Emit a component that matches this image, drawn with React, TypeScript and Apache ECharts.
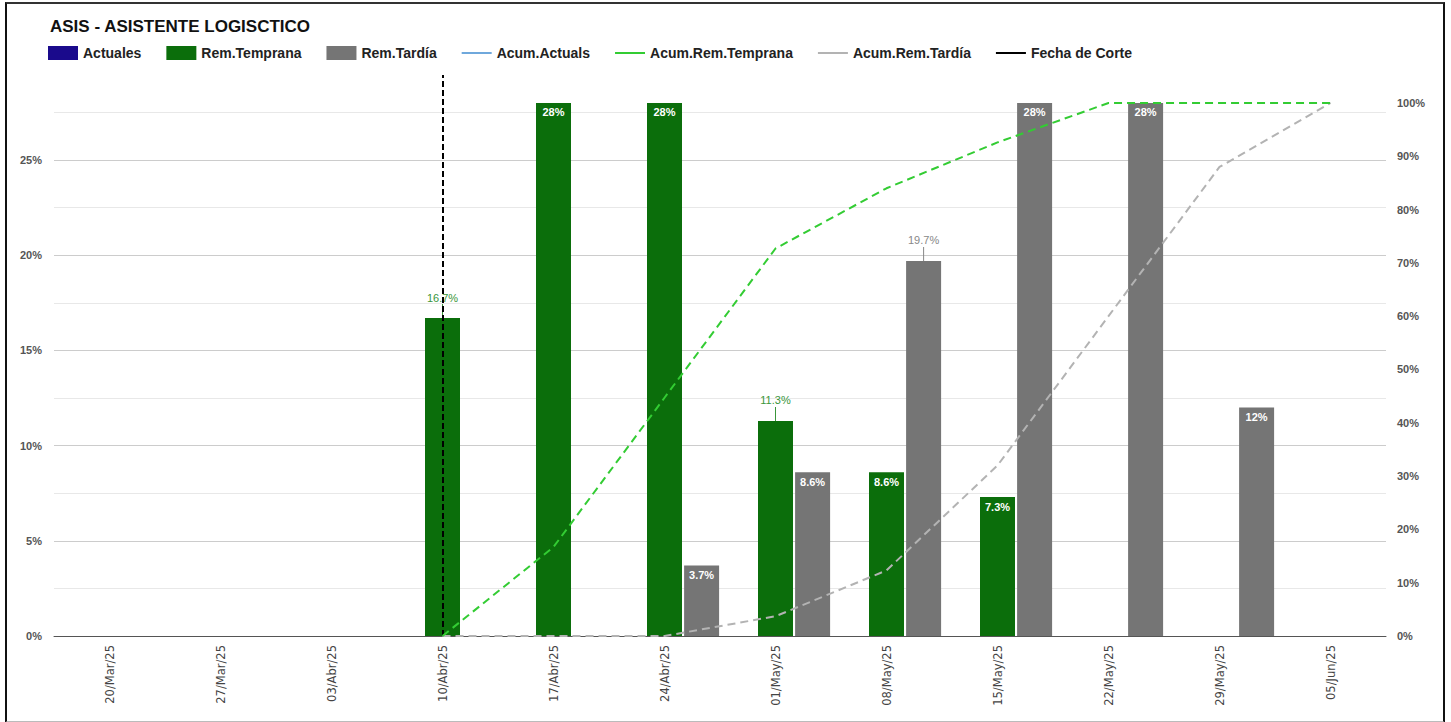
import React, { useEffect, useRef } from "react";
import * as echarts from "echarts";

const title = "ASIS - ASISTENTE LOGISCTICO";
const categories = ["20/Mar/25", "27/Mar/25", "03/Abr/25", "10/Abr/25", "17/Abr/25", "24/Abr/25", "01/May/25", "08/May/25", "15/May/25", "22/May/25", "29/May/25", "05/Jun/25"];
const actuales = [0, 0, 0, 0, 0, 0, 0, 0, 0, 0, 0, 0];
const remTemprana = [null, null, null, 16.7, 28, 28, 11.3, 8.6, 7.3, null, null, null];
const remTardia = [null, null, null, null, null, 3.7, 8.6, 19.7, 28, 28, 12, null];
const acumActuals = [null, null, null, null, null, null, null, null, null, null, null, null];
const acumTemprana = [null, null, null, 0, 16.7, 44.7, 72.7, 84, 92.6, 100, 100, 100];
const acumTardia = [null, null, null, 0, 0, 0, 3.7, 12.3, 32, 60, 88, 100];
const fechaCorte = "10/Abr/25";
const outsideTemprana = [3, 6];
const outsideTardia = [7];

const FONT = "'Liberation Sans', Arial, sans-serif";
const C_ACT = "#1a0a8c";
const C_TEMP = "#0b6e0b";
const C_TARD = "#757575";
const C_AACT = "#6fa8dc";
const C_ATEMP = "#33cc33";
const C_ATARD = "#b3b3b3";
const LINE_ICON = "path://M0,0 H30 V2 H0 Z";

function barData(vals: (number | null)[], outside: number[], outColor: string) {
  return vals.map((v, i) => {
    if (v === null) return null;
    if (outside.includes(i)) {
      return {
        value: v,
        label: {
          show: true,
          position: "top",
          distance: 0,
          formatter: (p: any) => `{a|${p.value}%}\n{b|}`,
          rich: {
            a: { color: outColor, fontSize: 11, fontFamily: FONT, fontWeight: "normal", lineHeight: 13, align: "center" },
            b: { width: 1, height: 14, backgroundColor: outColor, align: "center" },
          },
        },
      };
    }
    return { value: v };
  });
}

export default function App() {
  const ref = useRef<HTMLDivElement>(null);
  useEffect(() => {
    if (!ref.current) return;
    const chart = echarts.init(ref.current, null, { renderer: "svg" });
    const inLabel = {
      show: true,
      position: "insideTop",
      distance: 4,
      color: "#fff",
      fontWeight: "bold",
      fontSize: 11,
      fontFamily: FONT,
      formatter: (p: any) => `${p.value}%`,
    };
    chart.setOption({
      animation: false,
      backgroundColor: "transparent",
      title: {
        text: title,
        left: 45,
        top: 13,
        textStyle: { fontFamily: FONT, fontSize: 17, fontWeight: "bold", color: "#111" },
      },
      legend: {
        left: 43,
        top: 41,
        itemWidth: 30,
        itemHeight: 14,
        itemGap: 25,
        textStyle: { fontFamily: FONT, fontSize: 14, fontWeight: "bold", color: "#222" },
        data: [
          { name: "Actuales", icon: "rect" },
          { name: "Rem.Temprana", icon: "rect" },
          { name: "Rem.Tardía", icon: "rect" },
          { name: "Acum.Actuals", icon: LINE_ICON },
          { name: "Acum.Rem.Temprana", icon: LINE_ICON },
          { name: "Acum.Rem.Tardía", icon: LINE_ICON },
          { name: "Fecha de Corte", icon: LINE_ICON },
        ],
      },
      grid: { left: 54, right: 65, top: 75, bottom: 86 },
      xAxis: {
        type: "category",
        data: categories,
        axisTick: { show: false },
        axisLine: { lineStyle: { color: "#555", width: 1 } },
        axisLabel: {
          rotate: 90,
          margin: 9,
          fontSize: 11.5,
          fontFamily: "'DejaVu Sans', Verdana, sans-serif",
          color: "#444",
        },
      },
      yAxis: [
        {
          type: "value",
          min: 0,
          max: 29.47,
          interval: 2.5,
          axisLine: { show: false },
          axisTick: { show: false },
          axisLabel: {
            margin: 12,
            fontSize: 11,
            fontWeight: "bold",
            fontFamily: FONT,
            color: "#555",
            showMaxLabel: false,
            formatter: (v: number) => (Math.abs(v % 5) < 1e-6 ? `${v}%` : ""),
          },
          splitLine: { show: true, showMaxLine: false, lineStyle: { color: ["#cccccc", "#e8e8e8"], width: 1 } },
        },
        {
          type: "value",
          min: 0,
          max: 105.25,
          interval: 10,
          position: "right",
          axisLine: { show: false },
          axisTick: { show: false },
          splitLine: { show: false },
          axisLabel: {
            margin: 11,
            fontSize: 11,
            fontWeight: "bold",
            fontFamily: FONT,
            color: "#555",
            showMaxLabel: false,
            formatter: (v: number) => `${v}%`,
          },
        },
      ],
      series: [
        {
          name: "Actuales",
          type: "bar",
          data: actuales,
          barWidth: 35,
          barGap: "6%",
          itemStyle: { color: C_ACT },
        },
        {
          name: "Rem.Temprana",
          type: "bar",
          data: barData(remTemprana, outsideTemprana, "#3a963a"),
          barWidth: 35,
          barGap: "6%",
          itemStyle: { color: C_TEMP },
          label: inLabel,
        },
        {
          name: "Rem.Tardía",
          type: "bar",
          data: barData(remTardia, outsideTardia, "#888888"),
          barWidth: 35,
          barGap: "6%",
          itemStyle: { color: C_TARD },
          label: inLabel,
        },
        {
          name: "Acum.Actuals",
          type: "line",
          yAxisIndex: 1,
          data: acumActuals,
          symbol: "none",
          itemStyle: { color: C_AACT },
          lineStyle: { color: C_AACT, width: 2 },
        },
        {
          name: "Acum.Rem.Temprana",
          type: "line",
          yAxisIndex: 1,
          data: acumTemprana,
          symbol: "none",
          itemStyle: { color: C_ATEMP },
          lineStyle: { color: C_ATEMP, width: 2, type: [8, 5] },
          z: 5,
        },
        {
          name: "Acum.Rem.Tardía",
          type: "line",
          yAxisIndex: 1,
          data: acumTardia,
          symbol: "none",
          itemStyle: { color: C_ATARD },
          lineStyle: { color: C_ATARD, width: 2, type: [8, 5] },
          z: 4,
        },
        {
          name: "Fecha de Corte",
          type: "line",
          data: [],
          symbol: "none",
          itemStyle: { color: "#000" },
          lineStyle: { color: "#000", width: 2 },
          markLine: {
            silent: true,
            symbol: "none",
            label: { show: false },
            lineStyle: { color: "#000", width: 2, type: [6, 3] },
            data: [{ xAxis: fechaCorte }],
          },
          z: 6,
        },
      ],
    });
    return () => chart.dispose();
  }, []);

  return (
    <div style={{ position: "fixed", left: 0, top: 0, width: 1451, height: 722, background: "#fff" }}>
      <div
        style={{
          position: "absolute",
          left: 5,
          top: 2,
          width: 1436,
          height: 717,
          borderLeft: "2px solid #111",
          borderTop: "2px solid #333",
          borderRight: "2px solid #111",
          borderBottom: "2px solid #bbb",
        }}
      />
      <div ref={ref} style={{ position: "absolute", left: 0, top: 0, width: 1451, height: 722 }} />
    </div>
  );
}
